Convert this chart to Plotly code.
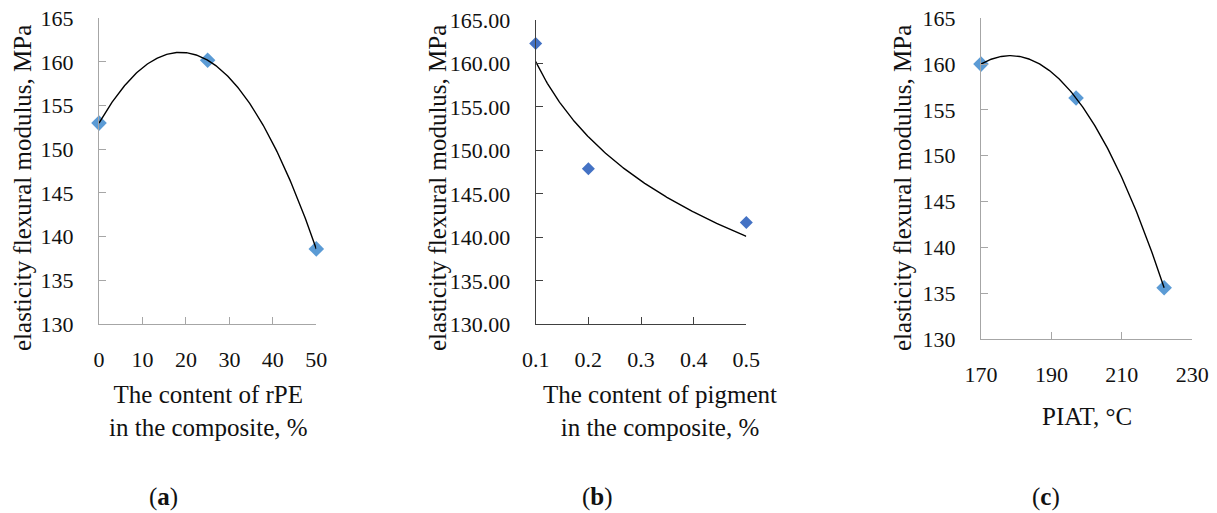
import numpy as np
import plotly.graph_objects as go

W, H = 1217, 513

# (a) rPE content in the composite, %
rpe_content = [0, 25, 50]
rpe_modulus = [153.0, 160.2, 138.6]

# (b) pigment content in the composite, %
pigment_content = [0.1, 0.2, 0.5]
pigment_modulus = [162.3, 147.9, 141.7]

# (c) PIAT, °C
piat = [170, 197, 222]
piat_modulus = [160.0, 156.3, 135.6]

y_ticks = [130, 135, 140, 145, 150, 155, 160, 165]
x_ticks_a = [0, 10, 20, 30, 40, 50]
x_ticks_b = [0.1, 0.2, 0.3, 0.4, 0.5]
x_ticks_c = [170, 190, 210, 230]

FONT = "'Liberation Serif', 'Times New Roman', 'DejaVu Serif', serif"
TICK_SIZE = 22
TITLE_SIZE = 25
LIGHT_BLUE = "#5B9BD5"
DARK_BLUE = "#4472C4"
GREY_AXIS = "#A6A6A6"
DARK_AXIS = "#404040"


def px_x(v):
    return v / W


def px_y(v):
    return 1 - v / H


fig = go.Figure()

# trend lines: 2nd order polynomial for (a) and (c), logarithmic for (b)
xa = np.linspace(min(rpe_content), max(rpe_content), 200)
ya = np.polyval(np.polyfit(rpe_content, rpe_modulus, 2), xa)
xb = np.linspace(min(pigment_content), max(pigment_content), 200)
kb = np.polyfit(np.log(pigment_content), pigment_modulus, 1)
yb = kb[0] * np.log(xb) + kb[1]
xc = np.linspace(min(piat), max(piat), 200)
yc = np.polyval(np.polyfit(piat, piat_modulus, 2), xc)

fig.add_trace(go.Scatter(x=rpe_content, y=rpe_modulus, mode="markers", xaxis="x", yaxis="y",
                         marker=dict(symbol="diamond", size=12, color=LIGHT_BLUE), cliponaxis=False))
fig.add_trace(go.Scatter(x=xa, y=ya, mode="lines", xaxis="x", yaxis="y",
                         line=dict(color="black", width=1.4), cliponaxis=False))

fig.add_trace(go.Scatter(x=pigment_content, y=pigment_modulus, mode="markers", xaxis="x2", yaxis="y2",
                         marker=dict(symbol="diamond", size=10, color=DARK_BLUE), cliponaxis=False))
fig.add_trace(go.Scatter(x=xb, y=yb, mode="lines", xaxis="x2", yaxis="y2",
                         line=dict(color="black", width=1.4), cliponaxis=False))

fig.add_trace(go.Scatter(x=piat, y=piat_modulus, mode="markers", xaxis="x3", yaxis="y3",
                         marker=dict(symbol="diamond", size=12, color=LIGHT_BLUE), cliponaxis=False))
fig.add_trace(go.Scatter(x=xc, y=yc, mode="lines", xaxis="x3", yaxis="y3",
                         line=dict(color="black", width=1.4), cliponaxis=False))


def xaxis(dom, rng, ticks, color, anchor):
    return dict(domain=[px_x(dom[0]), px_x(dom[1])], range=rng, tickvals=ticks,
                showline=True, linecolor=color, linewidth=1.3, ticks="inside", ticklen=7,
                tickcolor=color, tickwidth=1.3, showgrid=False, zeroline=False, anchor=anchor,
                automargin=False, ticklabelstandoff=15,
                tickfont=dict(family=FONT, size=TICK_SIZE, color="#111"))


def yaxis(dom, ticks, color, anchor, fmt):
    return dict(domain=[px_y(dom[1]), px_y(dom[0])], range=[130, 165], tickvals=ticks,
                tickformat=fmt, showline=True, linecolor=color, linewidth=1.3, ticks="inside",
                ticklen=7, tickcolor=color, tickwidth=1.3, showgrid=False, zeroline=False,
                anchor=anchor, automargin=False, ticklabelstandoff=20,
                tickfont=dict(family=FONT, size=TICK_SIZE, color="#111"))


fig.update_layout(
    width=W, height=H, margin=dict(l=0, r=0, t=0, b=0, pad=0, autoexpand=False),
    paper_bgcolor="white", plot_bgcolor="white", showlegend=False,
    font=dict(family=FONT),
    xaxis=xaxis((99, 316.3), [0, 50], x_ticks_a, GREY_AXIS, "y"),
    yaxis=yaxis((18.3, 324), y_ticks, GREY_AXIS, "x", "d"),
    xaxis2=xaxis((535.7, 746.3), [0.1, 0.5], x_ticks_b, DARK_AXIS, "y2"),
    yaxis2=yaxis((20, 324.3), y_ticks, DARK_AXIS, "x2", ".2f"),
    xaxis3=xaxis((981, 1192.3), [170, 230], x_ticks_c, GREY_AXIS, "y3"),
    yaxis3=yaxis((18.3, 339), y_ticks, GREY_AXIS, "x3", "d"),
)

tf = dict(family=FONT, size=TITLE_SIZE, color="#111")
notes = [
    (22, 188, "elasticity flexural modulus, MPa", -90),
    (437, 188, "elasticity flexural modulus, MPa", -90),
    (902, 188, "elasticity flexural modulus, MPa", -90),
    (208, 411, "The content of rPE<br>in the composite, %", 0),
    (660, 411, "The content of pigment<br>in the composite, %", 0),
    (1087, 416, "PIAT, °C", 0),
    (163, 497, "(<b>a</b>)", 0),
    (597, 497, "(<b>b</b>)", 0),
    (1046, 497, "(<b>c</b>)", 0),
]
for x, y, text, ang in notes:
    fig.add_annotation(x=px_x(x), y=px_y(y), xref="paper", yref="paper", text=text,
                       textangle=ang, showarrow=False, xanchor="center", yanchor="middle",
                       font=tf)

fig.write_html("out.html")
